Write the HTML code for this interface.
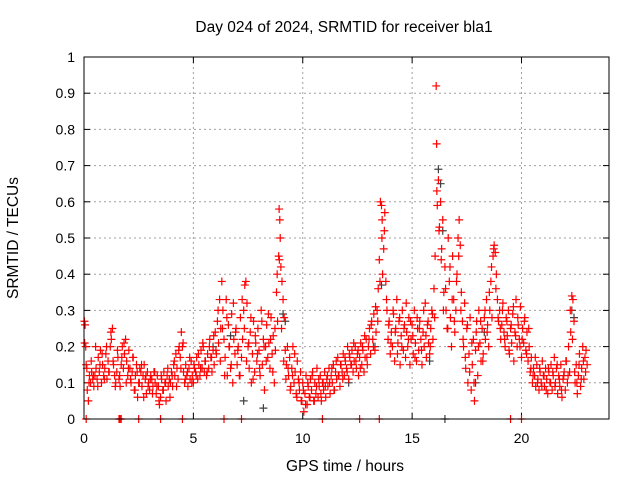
<!DOCTYPE html>
<html><head><meta charset="utf-8"><style>
body{margin:0;background:#fff}
svg{display:block;font-family:"Liberation Sans",sans-serif}
</style></head><body>
<svg id="chart" width="640" height="480">
<text x="344" y="32" text-anchor="middle" font-size="15.5">Day 024 of 2024, SRMTID for receiver bla1</text>
<text x="0" y="0" transform="translate(18,238) rotate(-90)" text-anchor="middle" font-size="15.5">SRMTID / TECUs</text>
<text x="345" y="471" text-anchor="middle" font-size="15.5">GPS time / hours</text>
<g id="grid"></g>
<g id="ticks"></g>
<g id="gray"></g>
<g id="red"></g>
<rect x="84" y="57" width="525" height="362" fill="none" stroke="#000" stroke-width="1"/>
</svg>
<script>
const xTicks=[0,5,10,15,20];
const yTicks=[0,0.1,0.2,0.3,0.4,0.5,0.6,0.7,0.8,0.9,1];
const yTickLabels=["0","0.1","0.2","0.3","0.4","0.5","0.6","0.7","0.8","0.9","1"];
const redT=[0.02,0.05,0.08,0.1,0.15,0.2,0.25,0.3,0.35,0.4,
0.45,0.5,0.55,0.6,0.65,0.7,0.75,0.8,0.85,0.9,
0.95,1.0,1.05,1.1,1.15,1.2,1.25,1.3,1.35,1.4,
1.45,1.5,1.55,1.6,1.65,1.7,1.75,1.8,1.85,1.9,
1.95,2.0,2.05,2.1,2.15,2.2,2.25,2.3,2.35,2.4,
2.45,2.5,2.55,2.6,2.65,2.7,2.75,2.8,2.85,2.9,
2.95,3.0,3.05,3.1,3.15,3.2,3.25,3.3,3.35,3.4,
3.45,3.5,3.55,3.6,3.65,3.7,3.75,3.8,3.85,3.9,
3.95,4.0,4.05,4.1,4.15,4.2,4.25,4.3,4.35,4.4,
4.45,4.5,4.55,4.6,4.65,4.7,4.75,4.8,4.85,4.9,
4.95,5.0,5.05,5.1,5.15,5.2,5.25,5.3,5.35,5.4,
5.45,5.5,5.55,5.6,5.65,5.7,5.75,5.8,5.85,5.9,
5.95,6.0,6.05,6.1,6.15,6.2,6.25,6.3,6.35,6.4,
6.45,6.5,6.55,6.6,6.65,6.7,6.75,6.8,6.85,6.9,
6.95,7.0,7.05,7.1,7.15,7.2,7.25,7.3,7.35,7.4,
7.45,7.5,7.55,7.6,7.65,7.7,7.75,7.8,7.85,7.9,
7.95,8.0,8.05,8.1,8.15,8.2,8.25,8.3,8.35,8.4,
8.45,8.5,8.55,8.6,8.65,8.7,8.75,8.8,8.85,8.9,
8.92,8.95,8.97,9.0,9.05,9.1,9.15,9.2,9.25,9.3,
9.35,9.4,9.45,9.5,9.55,9.6,9.65,9.7,9.75,9.8,
9.85,9.9,9.95,10.0,10.05,10.1,10.15,10.2,10.25,10.3,
10.35,10.4,10.45,10.5,10.55,10.6,10.65,10.7,10.75,10.8,
10.85,10.9,10.95,11.0,11.05,11.1,11.15,11.2,11.25,11.3,
11.35,11.4,11.45,11.5,11.55,11.6,11.65,11.7,11.75,11.8,
11.85,11.9,11.95,12.0,12.05,12.1,12.15,12.2,12.25,12.3,
12.35,12.4,12.45,12.5,12.55,12.6,12.65,12.7,12.75,12.8,
12.85,12.9,12.95,13.0,13.05,13.1,13.15,13.2,13.25,13.3,
13.35,13.4,13.45,13.5,13.55,13.6,13.62,13.65,13.7,13.75,
13.8,13.85,13.9,13.95,14.0,14.05,14.1,14.15,14.2,14.25,
14.3,14.35,14.4,14.45,14.5,14.55,14.6,14.65,14.7,14.75,
14.8,14.85,14.9,14.95,15.0,15.05,15.1,15.15,15.2,15.25,
15.3,15.35,15.4,15.45,15.5,15.55,15.6,15.65,15.7,15.75,
15.8,15.85,15.9,15.95,16.0,16.05,16.1,16.12,16.15,16.2,
16.25,16.3,16.35,16.4,16.45,16.5,16.55,16.6,16.65,16.7,
16.75,16.8,16.85,16.9,16.95,17.0,17.05,17.1,17.15,17.2,
17.25,17.3,17.35,17.4,17.45,17.5,17.55,17.6,17.65,17.7,
17.75,17.8,17.85,17.9,17.95,18.0,18.05,18.1,18.15,18.2,
18.25,18.3,18.35,18.4,18.45,18.5,18.55,18.6,18.65,18.7,
18.75,18.8,18.85,18.9,18.95,19.0,19.05,19.1,19.15,19.2,
19.25,19.3,19.35,19.4,19.45,19.5,19.55,19.6,19.65,19.7,
19.75,19.8,19.85,19.9,19.95,20.0,20.05,20.1,20.15,20.2,
20.25,20.3,20.35,20.4,20.45,20.5,20.55,20.6,20.65,20.7,
20.75,20.8,20.85,20.9,20.95,21.0,21.05,21.1,21.15,21.2,
21.25,21.3,21.35,21.4,21.45,21.5,21.55,21.6,21.65,21.7,
21.75,21.8,21.85,21.9,21.95,22.0,22.05,22.1,22.15,22.2,
22.25,22.3,22.35,22.4,22.45,22.5,22.55,22.6,22.65,22.7,
22.75,22.8,22.85,22.9,22.95,23.0,
0.1,1.6,1.65,1.7,2.5,3.5,4.5,6.4,7.2,10.9,12.6,13.5,19.5,20.0];
const redV=[0.27,0.26,0.2,0.15,0.08,0.05,0.12,0.1,0.13,0.11,
0.09,0.12,0.14,0.11,0.17,0.13,0.19,0.1,0.15,0.12,
0.14,0.18,0.11,0.16,0.13,0.2,0.22,0.25,0.15,0.12,
0.1,0.13,0.17,0.11,0.09,0.15,0.2,0.14,0.18,0.22,
0.16,0.12,0.19,0.14,0.1,0.13,0.17,0.08,0.12,0.15,
0.06,0.1,0.14,0.13,0.09,0.12,0.15,0.11,0.07,0.13,
0.1,0.08,0.12,0.11,0.09,0.13,0.1,0.07,0.12,0.09,
0.04,0.06,0.11,0.08,0.13,0.1,0.05,0.12,0.09,0.11,
0.1,0.13,0.09,0.15,0.12,0.18,0.14,0.11,0.2,0.17,
0.24,0.2,0.13,0.1,0.15,0.12,0.09,0.14,0.11,0.16,
0.12,0.1,0.14,0.13,0.17,0.11,0.15,0.12,0.19,0.14,
0.2,0.13,0.16,0.12,0.18,0.14,0.22,0.17,0.13,0.19,
0.15,0.24,0.18,0.27,0.21,0.33,0.25,0.38,0.3,0.22,
0.17,0.33,0.12,0.26,0.2,0.14,0.29,0.1,0.22,0.18,
0.25,0.15,0.2,0.12,0.28,0.17,0.22,0.3,0.37,0.38,
0.32,0.2,0.14,0.24,0.1,0.18,0.27,0.13,0.21,0.16,
0.25,0.19,0.12,0.3,0.15,0.22,0.08,0.2,0.26,0.17,
0.21,0.14,0.28,0.18,0.23,0.1,0.19,0.35,0.27,0.45,
0.58,0.55,0.5,0.42,0.38,0.33,0.28,0.19,0.15,0.2,
0.12,0.17,0.09,0.14,0.2,0.1,0.13,0.07,0.16,0.11,
0.08,0.13,0.05,0.1,0.02,0.07,0.12,0.04,0.09,0.06,
0.11,0.08,0.13,0.05,0.1,0.07,0.14,0.06,0.09,0.12,
0.05,0.1,0.08,0.13,0.06,0.11,0.09,0.14,0.07,0.12,
0.1,0.15,0.08,0.13,0.11,0.17,0.12,0.09,0.15,0.13,
0.18,0.12,0.16,0.14,0.2,0.11,0.17,0.15,0.19,0.13,
0.16,0.2,0.14,0.18,0.12,0.17,0.21,0.15,0.19,0.13,
0.17,0.22,0.15,0.2,0.25,0.18,0.27,0.22,0.29,0.19,
0.24,0.3,0.36,0.44,0.6,0.59,0.5,0.4,0.47,0.57,
0.38,0.3,0.22,0.27,0.18,0.24,0.2,0.29,0.16,0.25,
0.33,0.21,0.27,0.15,0.23,0.3,0.19,0.26,0.17,0.24,
0.2,0.28,0.15,0.22,0.26,0.18,0.3,0.21,0.16,0.25,
0.19,0.27,0.22,0.15,0.24,0.2,0.32,0.17,0.26,0.21,
0.18,0.25,0.3,0.22,0.36,0.45,0.92,0.76,0.59,0.66,
0.53,0.6,0.47,0.55,0.35,0.42,0.3,0.25,0.5,0.38,
0.28,0.2,0.45,0.33,0.24,0.3,0.4,0.5,0.55,0.48,
0.35,0.27,0.2,0.32,0.14,0.25,0.1,0.18,0.28,0.08,
0.15,0.22,0.05,0.19,0.27,0.12,0.3,0.21,0.16,0.25,
0.18,0.28,0.22,0.33,0.26,0.2,0.3,0.38,0.28,0.45,
0.48,0.46,0.4,0.33,0.27,0.3,0.22,0.26,0.32,0.24,
0.2,0.28,0.23,0.3,0.18,0.25,0.21,0.29,0.16,0.24,
0.33,0.2,0.26,0.22,0.31,0.17,0.25,0.21,0.28,0.19,
0.24,0.16,0.2,0.13,0.17,0.1,0.14,0.12,0.09,0.15,
0.11,0.08,0.13,0.1,0.16,0.12,0.09,0.14,0.11,0.07,
0.13,0.1,0.15,0.08,0.12,0.17,0.1,0.14,0.07,0.12,
0.09,0.15,0.06,0.11,0.13,0.08,0.16,0.1,0.2,0.13,
0.24,0.34,0.33,0.27,0.1,0.15,0.07,0.12,0.18,0.09,
0.14,0.2,0.11,0.17,0.19,0.15,
0,0,0,0,0,0,0,0,0,0,0,0,0,0];
const red2T=[0.03,0.13,0.23,0.33,0.43,0.53,0.63,0.73,0.83,0.93,
1.03,1.13,1.23,1.33,1.43,1.53,1.63,1.73,1.83,1.93,
2.03,2.13,2.23,2.33,2.43,2.53,2.63,2.73,2.83,2.93,
3.03,3.13,3.23,3.33,3.43,3.53,3.63,3.73,3.83,3.93,
4.03,4.13,4.23,4.33,4.43,4.53,4.63,4.73,4.83,4.93,
5.03,5.13,5.23,5.33,5.43,5.53,5.63,5.73,5.83,5.93,
6.03,6.13,6.23,6.33,6.43,6.53,6.63,6.73,6.83,6.93,
7.03,7.13,7.23,7.33,7.43,7.53,7.63,7.73,7.83,7.93,
8.03,8.13,8.23,8.33,8.43,8.53,8.63,8.73,8.83,8.93,
9.03,9.13,9.23,9.33,9.43,9.53,9.63,9.73,9.83,9.93,
10.03,10.13,10.23,10.33,10.43,10.53,10.63,10.73,10.83,10.93,
11.03,11.13,11.23,11.33,11.43,11.53,11.63,11.73,11.83,11.93,
12.03,12.13,12.23,12.33,12.43,12.53,12.63,12.73,12.83,12.93,
13.03,13.13,13.23,13.33,13.43,13.53,13.63,13.73,13.83,13.93,
14.03,14.13,14.23,14.33,14.43,14.53,14.63,14.73,14.83,14.93,
15.03,15.13,15.23,15.33,15.43,15.53,15.63,15.73,15.83,15.93,
16.03,16.13,16.23,16.33,16.43,16.53,16.63,16.73,16.83,16.93,
17.03,17.13,17.23,17.33,17.43,17.53,17.63,17.73,17.83,17.93,
18.03,18.13,18.23,18.33,18.43,18.53,18.63,18.73,18.83,18.93,
19.03,19.13,19.23,19.33,19.43,19.53,19.63,19.73,19.83,19.93,
20.03,20.13,20.23,20.33,20.43,20.53,20.63,20.73,20.83,20.93,
21.03,21.13,21.23,21.33,21.43,21.53,21.63,21.73,21.83,21.93,
22.03,22.13,22.23,22.33,22.43,22.53,22.63,22.73,22.83,22.93];
const red2V=[0.21,0.14,0.1,0.16,0.12,0.2,0.09,0.15,0.18,0.11,
0.2,0.13,0.24,0.16,0.09,0.19,0.12,0.17,0.21,0.1,
0.14,0.11,0.17,0.08,0.13,0.1,0.15,0.06,0.12,0.09,
0.11,0.07,0.13,0.09,0.05,0.12,0.08,0.1,0.14,0.06,
0.12,0.16,0.09,0.19,0.14,0.21,0.11,0.13,0.17,0.1,
0.15,0.12,0.18,0.14,0.21,0.16,0.13,0.2,0.17,0.23,
0.19,0.3,0.16,0.25,0.12,0.28,0.2,0.15,0.32,0.24,
0.19,0.12,0.33,0.25,0.16,0.21,0.28,0.11,0.23,0.18,
0.14,0.27,0.2,0.16,0.29,0.22,0.13,0.25,0.4,0.44,
0.25,0.16,0.11,0.14,0.08,0.12,0.18,0.06,0.1,0.05,
0.08,0.04,0.1,0.06,0.12,0.05,0.09,0.11,0.07,0.1,
0.09,0.12,0.1,0.14,0.08,0.16,0.12,0.15,0.11,0.17,
0.13,0.18,0.15,0.21,0.16,0.19,0.14,0.2,0.23,0.17,
0.22,0.26,0.2,0.31,0.27,0.38,0.55,0.52,0.33,0.26,
0.21,0.3,0.24,0.18,0.28,0.2,0.25,0.32,0.22,0.27,
0.23,0.17,0.28,0.25,0.19,0.3,0.23,0.27,0.2,0.29,
0.28,0.63,0.52,0.44,0.3,0.36,0.25,0.42,0.33,0.27,
0.38,0.45,0.3,0.22,0.17,0.26,0.13,0.21,0.1,0.24,
0.2,0.27,0.16,0.3,0.24,0.35,0.42,0.47,0.36,0.28,
0.25,0.3,0.22,0.27,0.19,0.26,0.31,0.23,0.28,0.2,
0.22,0.27,0.18,0.25,0.14,0.12,0.17,0.1,0.14,0.09,
0.12,0.08,0.14,0.1,0.13,0.09,0.15,0.11,0.08,0.12,
0.16,0.12,0.3,0.22,0.13,0.1,0.15,0.11,0.16,0.13];
const grayT=[5.9,6.7,7.3,8.2,9.1,9.2,12.1,13.3,13.6,15.8,16.2,16.3,16.4,17.9,18.3,22.3,22.4,16.5];
const grayV=[0.2,0.23,0.05,0.03,0.29,0.27,0.1,0.2,0.37,0.16,0.69,0.65,0.52,0.1,0.24,0.3,0.28,0];
const NS="http://www.w3.org/2000/svg";
const X0=84,X1=609,Y0=419,Y1=57;
function xs(t){return X0+(t/24)*(X1-X0);}
function ys(v){return Y0-v*(Y0-Y1);}
function mk(tag,at,parent){const e=document.createElementNS(NS,tag);for(const k in at)e.setAttribute(k,at[k]);parent.appendChild(e);return e;}
const grid=document.getElementById('grid'),ticks=document.getElementById('ticks');
yTicks.forEach((v,i)=>{
  const y=ys(v);
  if(v>0&&v<1){
    const g=mk('line',{x1:X0,x2:X1,y1:y,y2:y,stroke:'#a0a0a0','stroke-dasharray':'2,3'},grid);
    
    
  }
  mk('line',{x1:X0,x2:X0+6,y1:y,y2:y,stroke:'#000'},ticks);
  mk('line',{x1:X1,x2:X1-6,y1:y,y2:y,stroke:'#000'},ticks);
  const t=mk('text',{x:X0-9,y:y+5,'text-anchor':'end','font-size':'14'},ticks);
  t.textContent=yTickLabels[i];
  
  
});
xTicks.forEach(v=>{
  const x=xs(v);
  if(v>0){
    const g=mk('line',{x1:x,x2:x,y1:Y0,y2:Y1,stroke:'#a0a0a0','stroke-dasharray':'2,3'},grid);
    
    
  }
  mk('line',{x1:x,x2:x,y1:Y0,y2:Y0-6,stroke:'#000'},ticks);
  mk('line',{x1:x,x2:x,y1:Y1,y2:Y1+6,stroke:'#000'},ticks);
  const t=mk('text',{x:x,y:Y0+24,'text-anchor':'middle','font-size':'14'},ticks);
  t.textContent=String(v);
  
  
});
function plus(g,t,v,col){
  const x=xs(t),y=ys(v);
  const p=mk('path',{d:`M${x-4},${y}H${x+4}M${x},${y-4}V${y+4}`,stroke:col,'stroke-width':'1.2',fill:'none'},g);
  
  
}
const gg=document.getElementById('gray'),rg=document.getElementById('red');
grayT.forEach((t,i)=>plus(gg,t,grayV[i],'#404040'));
redT.forEach((t,i)=>plus(rg,t,redV[i],'#ff0000'));
red2T.forEach((t,i)=>plus(rg,t,red2V[i],'#ff0000'));
</script>
</body></html>
